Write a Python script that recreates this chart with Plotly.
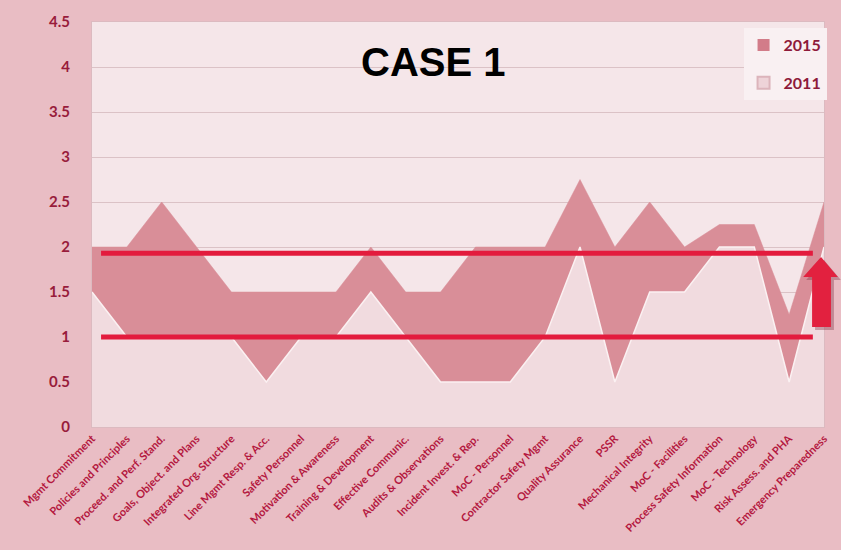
import plotly.graph_objects as go

categories = [
    "Mgmt Commitment", "Policies and Principles", "Proceed. and Perf. Stand.",
    "Goals, Object. and Plans", "Integrated Org. Structure", "Line Mgmt Resp. & Acc.",
    "Safety Personnel", "Motivation & Awareness", "Training & Development",
    "Effective Communic.", "Audits & Observations", "Incident Invest. & Rep.",
    "MoC - Personnel", "Contractor Safety Mgmt", "Quality Assurance", "PSSR",
    "Mechanical Integrity", "MoC - Facilities", "Process Safety Information",
    "MoC - Technology", "Risk Assess. and PHA", "Emergency Preparedness",
]
values_2015 = [2, 2, 2.5, 2, 1.5, 1.5, 1.5, 1.5, 2, 1.5, 1.5, 2, 2, 2, 2.75, 2,
               2.5, 2, 2.25, 2.25, 1.25, 2.5]
values_2011 = [1.5, 1, 1, 1, 1, 0.5, 1, 1, 1.5, 1, 0.5, 0.5, 0.5, 1, 2, 0.5,
               1.5, 1.5, 2, 2, 0.5, 2]
limit_levels = [1.93, 1.0]
y_ticks = [0, 0.5, 1, 1.5, 2, 2.5, 3, 3.5, 4, 4.5]

W, H = 841, 550
ML, MR, MT, MB = 92, 12, 22, 123
PW, PH = W - ML - MR, H - MT - MB

C2015 = "#d98e98"
C2011 = "#f1dbdf"


def px(x, y):
    return (x - ML) / PW, (H - MB - y) / PH


idx = list(range(len(categories)))

fig = go.Figure()
fig.add_trace(go.Scatter(
    x=idx, y=values_2015, name="2015", mode="lines", showlegend=False,
    line=dict(color="#d88d97", width=0.5), fill="tozeroy", fillcolor=C2015,
))
fig.add_trace(go.Scatter(
    x=idx, y=values_2011, name="2011", mode="lines", showlegend=False,
    line=dict(color="#fbf1f2", width=1.5), fill="tozeroy", fillcolor=C2011,
))
# legend entries (square swatches)
fig.add_trace(go.Scatter(x=[None], y=[None], mode="markers", name="<b>2015</b>",
                         legendgroup="a",
                         marker=dict(symbol="square", size=9, color="#d27c89")))
fig.add_trace(go.Scatter(x=[None], y=[None], mode="markers", name="<b>2011</b>",
                         legendgroup="b",
                         marker=dict(symbol="square", size=9, color="#eed3d8",
                                     line=dict(color="#dcb4bb", width=1))))

shapes = []
for lv in limit_levels:
    shapes.append(dict(type="line", xref="x", yref="y", x0=0.26, x1=20.68,
                       y0=lv, y1=lv, line=dict(color="#e31b3d", width=5), layer="above"))


def arrow_path(dx=0, dy=0):
    pts = [(826, 257), (843, 277), (836, 277), (836, 327), (817, 327), (817, 277), (808, 277)]
    s = ""
    for i, (a, b) in enumerate(pts):
        x, y = px(a + dx, b + dy)
        s += ("M" if i == 0 else "L") + f"{x:.5f},{y:.5f} "
    return s + "Z"


shapes.append(dict(type="path", xref="paper", yref="paper", path=arrow_path(3, 3),
                   fillcolor="rgba(120,40,60,0.35)", line=dict(width=0), layer="above"))
shapes.append(dict(type="path", xref="paper", yref="paper", path=arrow_path(),
                   fillcolor="#e2213f", line=dict(width=0), layer="above"))

tx, ty = px(436, 62)
fig.update_layout(
    width=W, height=H,
    margin=dict(l=ML, r=MR, t=MT, b=MB),
    paper_bgcolor="#e9bdc4",
    plot_bgcolor="#f5e6e9",
    shapes=shapes,
    annotations=[dict(text="<b>CASE 1</b>", x=tx, y=ty, xref="paper", yref="paper",
                      showarrow=False, xanchor="center", yanchor="middle",
                      font=dict(family="Liberation Sans, Arial", size=40, color="#000000"))],
    legend=dict(x=px(748, 0)[0], y=px(0, 28)[1], xanchor="left", yanchor="top",
                bgcolor="#f9f0f2", borderwidth=0,
                font=dict(family="Lato", size=16, color="#8e1a3a"),
                itemwidth=30, tracegroupgap=14, traceorder="grouped",
                itemsizing="constant"),
    showlegend=True,
    xaxis=dict(range=[0, len(categories) - 1], tickmode="array", tickvals=idx,
               ticktext=[f"<b>{c}</b>" for c in categories], tickangle=-45,
               showgrid=False, zeroline=False,
               tickfont=dict(family="Lato", size=11, color="#b4183f"),
               showline=True, linecolor="#dcbac0", mirror=True, ticks=""),
    yaxis=dict(range=[0, 4.5], tickmode="array", tickvals=y_ticks,
               ticktext=[f"<b>{v:g}</b>" for v in y_ticks], showgrid=True,
               gridcolor="#dbc2c6", gridwidth=1, zeroline=False,
               tickfont=dict(family="Lato", size=15, color="#981c3b"),
               showline=True, linecolor="#dcbac0", mirror=True, ticks="",
               ticklabelstandoff=18),
)

fig.write_html("out.html")
